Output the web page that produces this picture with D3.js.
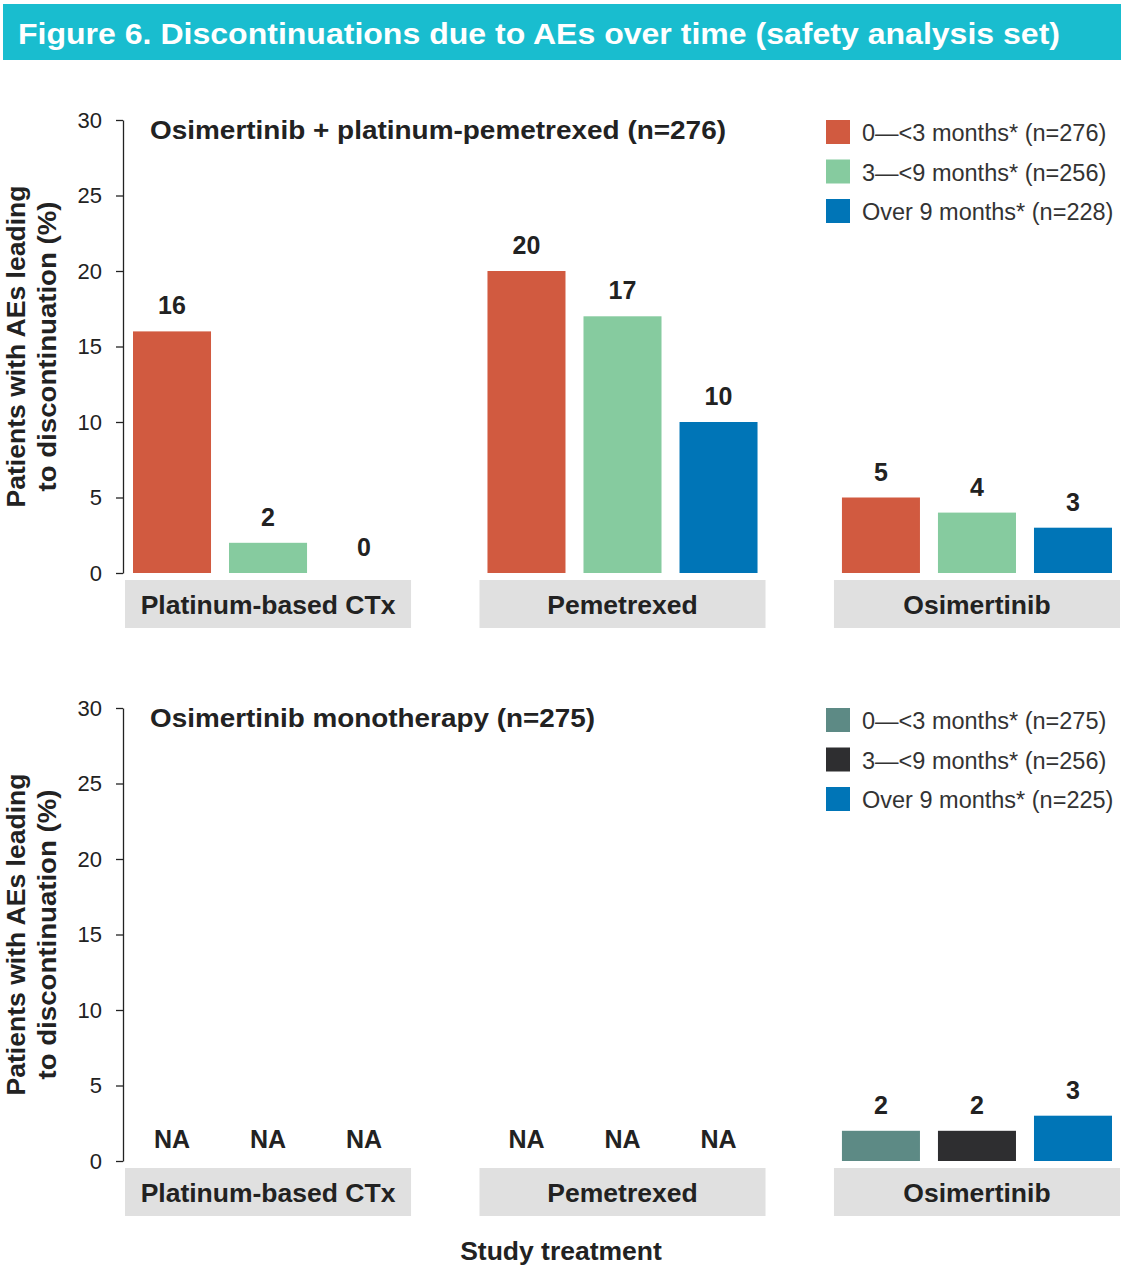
<!DOCTYPE html>
<html><head><meta charset="utf-8">
<script src="https://cdn.jsdelivr.net/npm/d3@7"></script>
<style>body{margin:0;background:#fff}svg{display:block}</style>
</head><body>
<script>
const titleText = "Figure 6. Discontinuations due to AEs over time (safety analysis set)";
const categories = ["Platinum-based CTx", "Pemetrexed", "Osimertinib"];
const periods = ["p1", "p2", "p3"];
const yTicks = [0, 5, 10, 15, 20, 25, 30];

const topTitle = "Osimertinib + platinum-pemetrexed (n=276)";
const topLegend = ["0\u2014<3 months* (n=276)", "3\u2014<9 months* (n=256)", "Over 9 months* (n=228)"];
const topColors = ["#D15A40", "#86CB9F", "#0075B7"];
const topValues = [[16, 2, 0], [20, 17, 10], [5, 4, 3]];
const topLabels = [["16", "2", "0"], ["20", "17", "10"], ["5", "4", "3"]];

const botTitle = "Osimertinib monotherapy (n=275)";
const botLegend = ["0\u2014<3 months* (n=275)", "3\u2014<9 months* (n=256)", "Over 9 months* (n=225)"];
const botColors = ["#5D8A85", "#2E2E30", "#0075B7"];
const botValues = [[null, null, null], [null, null, null], [2, 2, 3]];
const botLabels = [["NA", "NA", "NA"], ["NA", "NA", "NA"], ["2", "2", "3"]];

const W = 1123, H = 1274;
const svg = d3.select("body").append("svg").attr("width", W).attr("height", H)
  .style("font-family", "'Liberation Sans', Arial, sans-serif");

// title bar
svg.append("rect").attr("x", 3).attr("y", 4).attr("width", 1118).attr("height", 56).attr("fill", "#19BDCF");
svg.append("text").attr("x", 18).attr("y", 44).attr("fill", "#fff")
  .attr("font-size", 29).attr("font-weight", "bold")
  .attr("textLength", 1042).attr("lengthAdjust", "spacingAndGlyphs").text(titleText);

const x0 = d3.scaleBand().domain(categories).range([125, 1120]).paddingInner(0.193);
const x1 = d3.scaleBand().domain(periods).range([8, x0.bandwidth() - 8]).paddingInner(0.1875);

function panel(y0, y30, title, titleLen, legend, colors, values, labels) {
  const y = d3.scaleLinear().domain([0, 30]).range([y0, y30]);
  const g = svg.append("g");
  const ax = g.append("g").attr("transform", "translate(123,0)")
    .call(d3.axisLeft(y).tickValues(yTicks).tickSize(7).tickSizeOuter(0).tickPadding(14));
  ax.select(".domain").attr("stroke", "#222").attr("stroke-width", 1.3);
  ax.selectAll(".tick line").attr("stroke", "#222").attr("stroke-width", 1.3);
  ax.selectAll(".tick text").attr("font-size", 22).attr("fill", "#222")
    .attr("font-family", "'Liberation Sans', Arial, sans-serif");

  // y title
  const cy = (y0 + y30) / 2;
  g.append("text").attr("transform", `translate(25,${cy}) rotate(-90)`)
    .attr("text-anchor", "middle").attr("font-size", 25).attr("font-weight", "bold").attr("fill", "#222")
    .attr("textLength", 322).attr("lengthAdjust", "spacingAndGlyphs").text("Patients with AEs leading");
  g.append("text").attr("transform", `translate(56,${cy}) rotate(-90)`)
    .attr("text-anchor", "middle").attr("font-size", 25).attr("font-weight", "bold").attr("fill", "#222")
    .attr("textLength", 290).attr("lengthAdjust", "spacingAndGlyphs").text("to discontinuation (%)");

  g.append("text").attr("x", 150).attr("y", y30 + 19).attr("font-size", 26).attr("font-weight", "bold")
    .attr("fill", "#222").attr("textLength", titleLen).attr("lengthAdjust", "spacingAndGlyphs").text(title);

  // legend
  legend.forEach((t, i) => {
    g.append("rect").attr("x", 826).attr("y", y30 + i * 39.5).attr("width", 24).attr("height", 24).attr("fill", colors[i]);
    g.append("text").attr("x", 862).attr("y", y30 + i * 39.5 + 21).attr("font-size", 23.5).attr("fill", "#333").text(t);
  });

  categories.forEach((c, ci) => {
    const gx = x0(c);
    g.append("rect").attr("x", gx).attr("y", y0 + 7).attr("width", x0.bandwidth()).attr("height", 48).attr("fill", "#E0E0E0");
    g.append("text").attr("x", gx + x0.bandwidth() / 2).attr("y", y0 + 41).attr("text-anchor", "middle")
      .attr("font-size", 26.5).attr("font-weight", "bold").attr("fill", "#222").text(c);
    periods.forEach((p, pi) => {
      const v = values[ci][pi];
      const bx = gx + x1(p);
      if (v !== null && v > 0) {
        g.append("rect").attr("x", bx).attr("y", y(v)).attr("width", x1.bandwidth()).attr("height", y0 - y(v))
          .attr("fill", colors[pi]);
      }
      const ly = v === null ? y0 - 13 : y(v) - 17;
      g.append("text").attr("x", bx + x1.bandwidth() / 2).attr("y", ly).attr("text-anchor", "middle")
        .attr("font-size", 25).attr("font-weight", "bold").attr("fill", "#222").text(labels[ci][pi]);
    });
  });
}

panel(573, 120, topTitle, 576, topLegend, topColors, topValues, topLabels);
panel(1161, 708, botTitle, 445, botLegend, botColors, botValues, botLabels);

svg.append("text").attr("x", 561).attr("y", 1260).attr("text-anchor", "middle")
  .attr("font-size", 26.5).attr("font-weight", "bold").attr("fill", "#222").text("Study treatment");
</script>
</body></html>
